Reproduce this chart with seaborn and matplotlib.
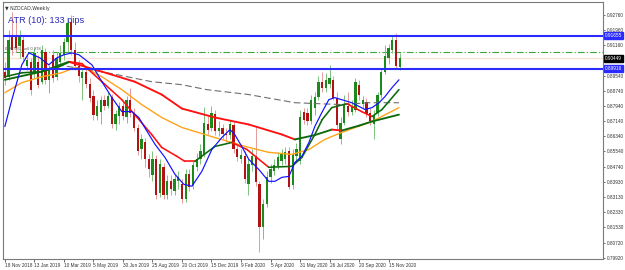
import numpy as np
import pandas as pd
import matplotlib
matplotlib.use("Agg")
import matplotlib.pyplot as plt
import matplotlib.transforms as mtrans
import seaborn as sns

# ---------------- data ----------------
week_start = "2018-11-18"
n_weeks = 108

opens = [.8975,.8948,.9169,.9164,.9111,.9143,.9006,.9027,.8969,.9027,
 .8922,.9080,.8932,.9064,.8948,.9027,.9064,.9132,.9238,.9090,
 .9006,.8943,.8975,.8911,.8848,.8743,.8764,.8827,.8796,.8843,
 .8701,.8743,.8796,.8733,.8827,.8759,.8680,.8564,.8606,.8512,
 .8428,.8512,.8333,.8470,.8322,.8396,.8343,.8396,.8380,.8301,
 .8433,.8375,.8470,.8512,.8533,.8701,.8680,.8754,.8659,.8680,
 .8648,.8638,.8691,.8564,.8512,.8528,.8380,.8480,.8528,.8380,
 .8154,.8275,.8417,.8449,.8475,.8501,.8512,.8554,.8375,.8528,
 .8501,.8764,.8759,.8712,.8785,.8843,.8922,.8890,.8911,.8932,
 .8838,.8617,.8706,.8796,.8764,.8775,.8906,.8806,.8817,.8759,
 .8696,.8759,.8854,.8975,.9048,.9090,.9143,.9001]
highs = [.9027,.9195,.9290,.9248,.9195,.9169,.9064,.9048,.9101,.9064,
 .9117,.9101,.9011,.9090,.9080,.9117,.9153,.9259,.9274,.9132,
 .9038,.8996,.8996,.8943,.8880,.8827,.8848,.8854,.8869,.8859,
 .8775,.8817,.8817,.8848,.8890,.8785,.8696,.8648,.8627,.8538,
 .8554,.8533,.8512,.8491,.8428,.8428,.8428,.8449,.8406,.8459,
 .8459,.8501,.8543,.8591,.8790,.8748,.8796,.8775,.8712,.8701,
 .8680,.8722,.8712,.8591,.8564,.8554,.8512,.8564,.8685,.8396,
 .8301,.8449,.8485,.8512,.8549,.8564,.8575,.8575,.8564,.8596,
 .8775,.8785,.8785,.8854,.8869,.8954,.8975,.8969,.9011,.8954,
 .8869,.8733,.8854,.8869,.8827,.8943,.8932,.8848,.8838,.8785,
 .8775,.8869,.8996,.9117,.9122,.9164,.9180,.9074]
lows = [.8906,.8932,.9064,.9080,.9048,.9038,.8985,.8854,.8943,.8890,
 .8911,.8911,.8864,.8922,.8932,.9006,.9038,.9080,.9064,.8985,
 .8922,.8827,.8890,.8817,.8722,.8722,.8696,.8775,.8785,.8680,
 .8669,.8701,.8722,.8706,.8733,.8659,.8533,.8512,.8470,.8417,
 .8396,.8301,.8312,.8301,.8301,.8322,.8322,.8354,.8280,.8285,
 .8343,.8354,.8449,.8485,.8522,.8648,.8664,.8643,.8633,.8617,
 .8606,.8617,.8543,.8501,.8491,.8385,.8322,.8449,.8370,.8022,
 .8091,.8259,.8385,.8428,.8459,.8480,.8485,.8354,.8354,.8501,
 .8485,.8701,.8691,.8696,.8748,.8827,.8869,.8869,.8890,.8827,
 .8669,.8591,.8691,.8743,.8748,.8764,.8827,.8785,.8738,.8691,
 .8617,.8743,.8838,.8964,.9017,.9074,.8996,.8985]
closes = [.8943,.9143,.9090,.9101,.9164,.9053,.9038,.8880,.9074,.8906,
 .9090,.8932,.8985,.8943,.9048,.9074,.9132,.9232,.9090,.9006,
 .8954,.8975,.8911,.8838,.8748,.8796,.8827,.8796,.8848,.8696,
 .8754,.8796,.8743,.8827,.8759,.8680,.8554,.8617,.8512,.8459,
 .8512,.8322,.8485,.8322,.8396,.8354,.8406,.8417,.8301,.8433,
 .8364,.8480,.8512,.8554,.8706,.8669,.8759,.8659,.8680,.8648,
 .8638,.8696,.8564,.8522,.8533,.8406,.8485,.8528,.8391,.8154,
 .8275,.8417,.8459,.8480,.8522,.8538,.8549,.8364,.8538,.8564,
 .8733,.8722,.8712,.8827,.8843,.8922,.8890,.8932,.8943,.8838,
 .8691,.8706,.8801,.8764,.8796,.8922,.8854,.8827,.8754,.8712,
 .8748,.8854,.8975,.9059,.9101,.9143,.9006,.9045]

# moving averages (week position, price)
blue_w = [0,1.9,4.6,6.5,9.5,11.9,14.1,16.0,18.2,20.1,23.6,26.3,29.0,31.7,34.4,36.3,37.9,40.7,43.4,46.1,
          48.5,50.7,53.4,56.1,58.8,61.0,62.3,64.2,66.1,68.8,71.5,73.2,75.1,77.0,78.6,80.5,82.4,84.0,85.9,87.8,
          89.4,91.3,94.0,97.6,99.5,101.4,103.0,104.9,106.8]
blue_v = [.8685,.8827,.9011,.9074,.9048,.9011,.9048,.9064,.9074,.9064,.9011,.8922,.8838,.8764,.8764,.8733,.8680,.8591,.8522,.8433,
          .8380,.8370,.8449,.8564,.8627,.8669,.8643,.8580,.8512,.8459,.8396,.8396,.8417,.8422,.8496,.8528,.8601,.8685,.8759,.8827,
          .8838,.8827,.8811,.8775,.8785,.8811,.8843,.8890,.8932]
orange_w = [0,4.6,10,15.4,19,22.8,26.3,31.7,37.1,42.5,48,53.4,56.9,66.1,71.5,77.8,82.4,86.7,91.3,99.5,106.8]
orange_v = [.8864,.8917,.8948,.8969,.8996,.8985,.8948,.8880,.8801,.8733,.8680,.8648,.8627,.8575,.8549,.8538,.8564,.8617,.8654,.8712,.8785]
gray_w = [14.1,26.3,39.8,48,54.7,66.1,78.6,91.3,98.6,106.8]
gray_v = [.9011,.8975,.8922,.8906,.8880,.8854,.8811,.8801,.8811,.8811]
maA_w = [0,4.6,10,14.1,17.6,20.9,26.3,31.7,35.2,39.8,42.5,46.6,48.8,51.5,56.9,61.5,65.6,71.5,77.8,80.5,
         84,86,88.6,92.7,96.7,99.5,102.2,106.8]
maA_v = [.8948,.8969,.8975,.8996,.9027,.9017,.8922,.8827,.8748,.8643,.8575,.8528,.8501,.8501,.8580,.8601,.8564,.8470,.8475,.8522,
         .8643,.8722,.8785,.8806,.8764,.8738,.8775,.8880]
maB_w = [0,10,17.3,26.3,35.2,42.5,48,56.9,66.1,75.1,78.6,84,88.6,91.3,96,99.5,106.8]
maB_v = [.8932,.8975,.9027,.8975,.8922,.8854,.8780,.8733,.8696,.8643,.8617,.8640,.8669,.8664,.8690,.8712,.8748]

level_hi = 0.91655
level_lo = 0.89916
level_mid = 0.90781
bid_line = 0.90460
last_price = 0.90449

ytick_labels = ["0.92760","0.91960","0.91160","0.89540","0.88740","0.87940","0.87140","0.86340",
                "0.85540","0.84740","0.83930","0.83130","0.82330","0.81530","0.80720","0.79920"]
xtick_labels = ["18 Nov 2018","13 Jan 2019","10 Mar 2019","5 May 2019","30 Jun 2019","25 Aug 2019",
                "20 Oct 2019","15 Dec 2019","9 Feb 2020","5 Apr 2020","31 May 2020","26 Jul 2020",
                "20 Sep 2020","15 Nov 2020"]

# ---------------- plotting ----------------
sns.set_style("white")
plt.rcParams['font.family'] = ['Liberation Sans', 'DejaVu Sans']

df = pd.DataFrame({"date": pd.date_range(week_start, periods=n_weeks, freq="7D"),
                   "open": opens, "high": highs, "low": lows, "close": closes})
df["pos"] = np.arange(len(df))
up = df["close"] >= df["open"]

fig = plt.figure(figsize=(6.25, 2.70), dpi=100)
ax = fig.add_axes([3/625, 11/270, 600/625, 257/270])

body_up, body_dn = "#1b8a1b", "#b31212"
wick_up, wick_dn = "#7cc27c", "#e59a9a"

ax.vlines(df["pos"], df["low"], df["high"],
          colors=np.where(up, wick_up, wick_dn), lw=0.7, zorder=3)
ax.bar(df["pos"], (df["close"] - df["open"]).abs().clip(lower=0.00025),
       bottom=df[["open", "close"]].min(axis=1), width=0.62,
       color=np.where(up, body_up, body_dn), linewidth=0, zorder=4)

# moving averages
sns.lineplot(x=orange_w, y=orange_v, ax=ax, color="#ffa31a", lw=1.0, zorder=5)
sns.lineplot(x=blue_w, y=blue_v, ax=ax, color="#1010ff", lw=0.85, zorder=6)
ax.plot(gray_w, gray_v, color="#6e6e6e", lw=0.8, ls=(0, (6, 3)), zorder=5)

def slope_colored(ws, vs, lw):
    for k in range(len(ws) - 1):
        c = "#0c6a0c" if vs[k + 1] > vs[k] else "#ff1010"
        ax.plot(ws[k:k + 2], vs[k:k + 2], color=c, lw=lw, solid_capstyle="round", zorder=5)

slope_colored(maB_w, maB_v, 1.35)
slope_colored(maA_w, maA_v, 1.15)

# horizontal levels
ax.axhline(level_hi, color="#2b2bff", lw=1.5, zorder=7)
ax.axhline(level_lo, color="#2b2bff", lw=1.5, zorder=7)
ax.axhline(level_mid, color="#3aa53a", lw=0.8, ls=(0, (6, 2, 1, 2)), zorder=2)
ax.axhline(bid_line, color="#fde3d3", lw=1.0, zorder=1)

ax.set_xlim(-0.5, 162.1)
ax.set_ylim(0.79857, 0.93428)

# axes style
for s in ["left", "top", "bottom", "right"]:
    ax.spines[s].set_color("#7a7a7a")
    ax.spines[s].set_linewidth(0.8)
ax.yaxis.tick_right()
ax.set_yticks([float(t) for t in ytick_labels])
ax.set_yticklabels(ytick_labels)
ax.set_xticks(np.arange(0, 8 * len(xtick_labels), 8))
ax.set_xticklabels(xtick_labels, ha="left")
ax.tick_params(axis="y", right=True, left=False, length=1.5, width=0.5, pad=1.0,
               labelsize=3.4, colors="#333333")
ax.tick_params(axis="x", bottom=True, length=2, width=0.5, pad=1.0,
               labelsize=3.4, colors="#333333")
ax.set_xlabel("")
ax.set_ylabel("")

# right-hand price boxes
tr = mtrans.blended_transform_factory(ax.transAxes, ax.transData)
for val, bg in [(level_hi, "#2b2bff"), (last_price, "#000000"), (level_lo, "#2b2bff")]:
    ax.text(1.003, val, f"{val:.5f}", transform=tr, fontsize=3.4, color="white",
            va="center", ha="left", zorder=10, clip_on=False,
            bbox=dict(boxstyle="square,pad=0.25", fc=bg, ec=bg))

# texts
ax.text(0.003, 0.985, "\u25bc NZDCAD,Weekly", transform=ax.transAxes, fontsize=3.4,
        color="#333333", va="top", ha="left", family=["DejaVu Sans"])
ax.text(0.008, 0.945, "ATR (10): 133 pips", transform=ax.transAxes, fontsize=6.6,
        color="#2a2ab8", va="top", ha="left")
ax.text(0.012, level_mid + 0.0006, "0.90786 , sell 0.978", fontsize=3.0,
        color="#555555", va="bottom", ha="left", zorder=8)

fig.savefig("out.png", dpi=100)
